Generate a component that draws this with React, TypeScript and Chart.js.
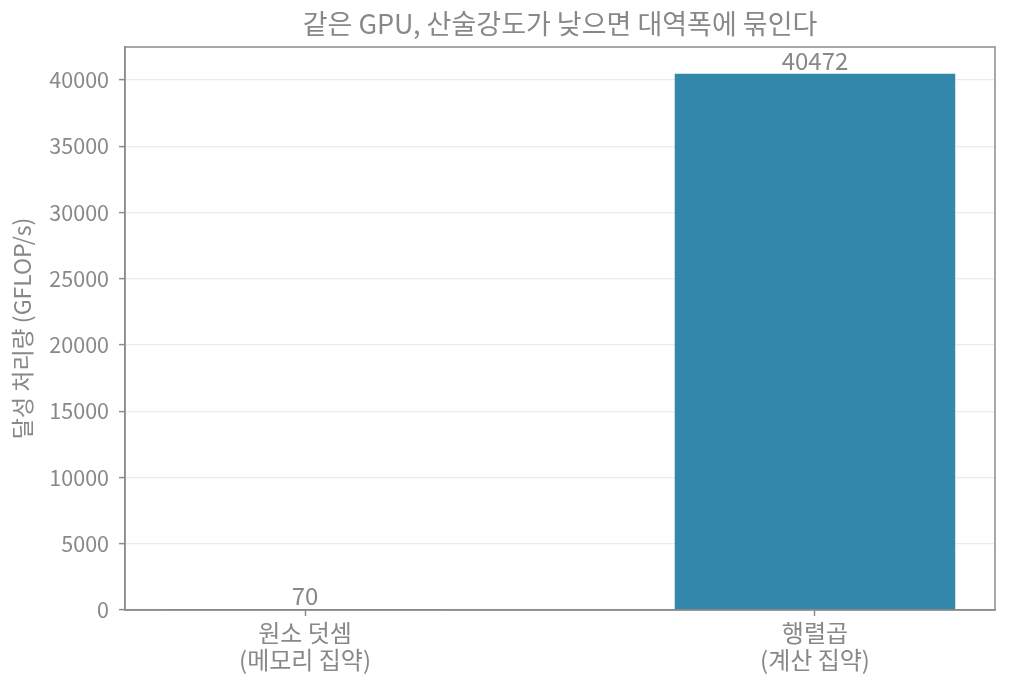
import React, { useEffect, useRef } from 'react';
import { Chart, registerables, Plugin } from 'chart.js';

Chart.register(...registerables);

const titleText = '같은 GPU, 산술강도가 낮으면 대역폭에 묶인다';
const yTitle = '달성 처리량 (GFLOP/s)';
const categories: string[][] = [
  ['원소 덧셈', '(메모리 집약)'],
  ['행렬곱', '(계산 집약)'],
];
const throughput: number[] = [70, 40472];
const yTicks: number[] = [0, 5000, 10000, 15000, 20000, 25000, 30000, 35000, 40000];

const FONT = '"Noto Sans CJK KR", "Noto Sans", sans-serif';
const TEXT = '#888888';
const SPINE = '#8c8c8c';

// box around the plot + value labels above bars
const extras: Plugin<'bar'> = {
  id: 'extras',
  afterDatasetsDraw(chart) {
    const { ctx, chartArea } = chart;
    ctx.save();
    ctx.strokeStyle = SPINE;
    ctx.lineWidth = 1.5;
    ctx.strokeRect(chartArea.left, chartArea.top, chartArea.right - chartArea.left, chartArea.bottom - chartArea.top);

    const meta = chart.getDatasetMeta(0);
    ctx.fillStyle = TEXT;
    ctx.font = `24px ${FONT}`;
    ctx.textAlign = 'center';
    ctx.textBaseline = 'middle';
    meta.data.forEach((bar, i) => {
      ctx.fillText(String(throughput[i]), bar.x, bar.y - 13);
    });
    ctx.restore();
  },
};

const App: React.FC = () => {
  const canvasRef = useRef<HTMLCanvasElement>(null);

  useEffect(() => {
    document.body.style.margin = '0';
    let chart: Chart<'bar'> | null = null;
    const ctx = canvasRef.current?.getContext('2d');
    if (ctx) {
      chart = new Chart(ctx, {
        type: 'bar',
        data: {
          datasets: [
            {
              data: throughput.map((v, i) => ({ x: i, y: v })) as any,
              backgroundColor: 'rgba(40, 129, 167, 0.95)',
              borderWidth: 0,
              barPercentage: 0.55,
              categoryPercentage: 1,
            },
          ],
        },
        options: {
          responsive: false,
          animation: false,
          devicePixelRatio: 1,
          layout: { padding: { left: 0, right: 15, top: 0, bottom: 0 } },
          plugins: {
            legend: { display: false },
            tooltip: { enabled: false },
            title: {
              display: true,
              fullSize: false,
              text: titleText,
              color: TEXT,
              font: { family: FONT, size: 27, weight: 'normal', lineHeight: 1.2 },
              padding: { top: 8, bottom: 6.6 },
            },
          },
          scales: {
            x: {
              type: 'linear',
              offset: false,
              min: -0.353,
              max: 1.353,
              afterBuildTicks: (scale) => {
                scale.ticks = categories.map((_, i) => ({ value: i }));
              },
              afterFit: (scale) => {
                scale.height = 80;
              },
              ticks: {
                color: TEXT,
                font: { family: FONT, size: 24, lineHeight: 1.1 },
                padding: 4,
                maxRotation: 0,
                callback: (value) => categories[Number(value)] ?? '',
              },
              grid: {
                offset: false,
                drawOnChartArea: false,
                drawTicks: true,
                tickLength: 6,
                tickColor: SPINE,
                tickWidth: 1.5,
              },
              border: { color: SPINE, width: 1.5 },
            },
            y: {
              min: 0,
              max: 40472 * 1.05,
              afterBuildTicks: (scale) => {
                scale.ticks = yTicks.map((v) => ({ value: v }));
              },
              afterFit: (scale) => {
                scale.width = 125;
              },
              ticks: {
                color: TEXT,
                font: { family: FONT, size: 21.5 },
                padding: 10,
                callback: (value) => String(value),
              },
              grid: {
                color: '#ebebeb',
                lineWidth: 1.2,
                tickLength: 6,
                tickColor: SPINE,
                tickWidth: 1.5,
              },
              border: { color: SPINE, width: 1.5 },
              title: {
                display: true,
                text: yTitle,
                color: TEXT,
                font: { family: FONT, size: 23, lineHeight: 1.2 },
                padding: { top: 8, bottom: 4 },
              },
            },
          },
        },
        plugins: [extras],
      });
    }
    return () => {
      if (chart) chart.destroy();
    };
  }, []);

  return (
    <div style={{ position: 'absolute', left: 0, top: 0, width: 1010, height: 690, background: '#fff' }}>
      <canvas ref={canvasRef} width={1010} height={690} />
    </div>
  );
};

export default App;
